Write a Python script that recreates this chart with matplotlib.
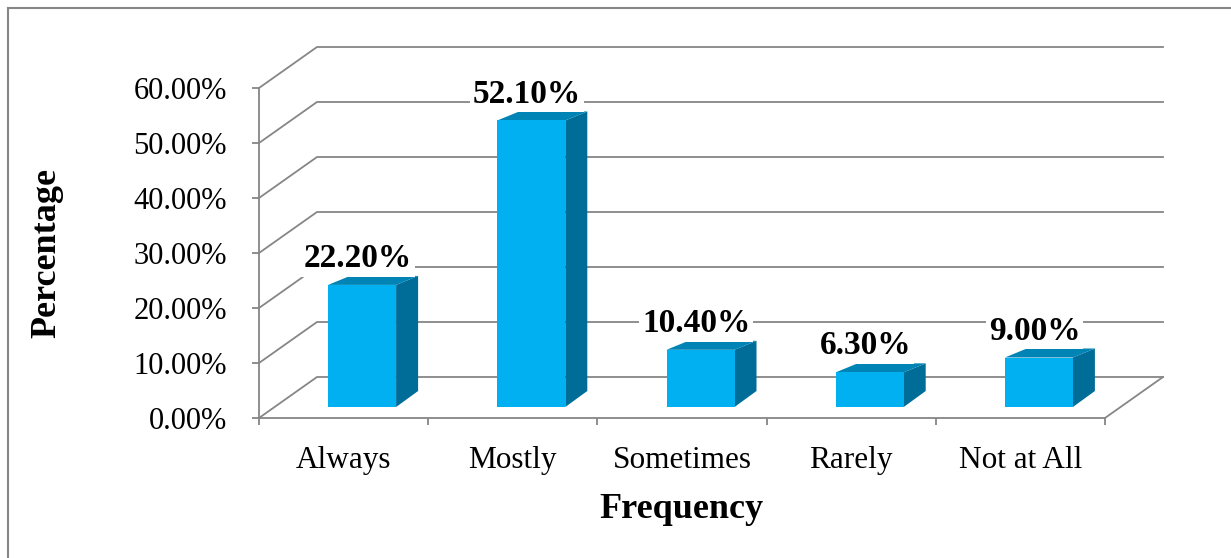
import matplotlib.pyplot as plt
from matplotlib.patches import Polygon
from matplotlib.lines import Line2D

plt.rcParams['font.family'] = ['Liberation Serif', 'DejaVu Serif']

# data
categories = ['Always', 'Mostly', 'Sometimes', 'Rarely', 'Not at All']
values = [22.2, 52.1, 10.4, 6.3, 9.0]
labels = ['22.20%', '52.10%', '10.40%', '6.30%', '9.00%']
yticks = [0, 10, 20, 30, 40, 50, 60]

W, H = 1231, 558
fig = plt.figure(figsize=(W / 100, H / 100), dpi=100)
ax = fig.add_axes([259 / W, 140 / H, 846 / W, 330 / H])
ax.set_xlim(-0.5, 4.5)
ax.set_ylim(0, 60)

# pixels -> data units
sx = 5 / 846
sy = 60 / 330

grid = '#868686'
front = '#00B0F0'
side = '#006D99'
top = '#0083B5'

# 3d wall offset
wdx, wdy = 58 * sx, 41 * sy
for t in yticks:
    ax.plot([-0.5, -0.5 + wdx, 4.5 + wdx], [t, t + wdy, t + wdy],
            color=grid, lw=1.3, clip_on=False, zorder=1)
ax.plot([4.5, 4.5 + wdx], [0, wdy], color=grid, lw=1.3, clip_on=False, zorder=1)

# bars
bw = 68 * sx
ox, oy = 18.5 * sx, 11 * sy  # bar front face offset
ddx, dty, dby = 22 * sx, 9 * sy, 16 * sy
for i, v in enumerate(values):
    x0 = i + ox - bw / 2
    x1 = x0 + bw
    y0 = oy
    y1 = oy + v
    ax.add_patch(Polygon([[x1, y0], [x1, y1], [x1 + ddx, y1 + dty], [x1 + ddx, y0 + dby]],
                         closed=True, fc=side, ec='none', clip_on=False, zorder=3))
    ax.add_patch(Polygon([[x0, y1], [x1, y1], [x1 + ddx, y1 + dty], [x0 + ddx, y1 + dty]],
                         closed=True, fc=top, ec='none', clip_on=False, zorder=3))
    ax.add_patch(Polygon([[x0, y0], [x1, y0], [x1, y1], [x0, y1]],
                         closed=True, fc=front, ec='none', clip_on=False, zorder=4))
    ax.annotate(labels[i], (i + ox, y1), xytext=(-3, 19), textcoords='offset points',
                ha='center', va='center', fontsize=24, fontweight='bold',
                bbox=dict(fc='white', ec='none', pad=2), zorder=6)

# axes
for s in ['top', 'right']:
    ax.spines[s].set_visible(False)
for s in ['left', 'bottom']:
    ax.spines[s].set_color(grid)
    ax.spines[s].set_linewidth(1.3)
ax.set_yticks(yticks)
ax.set_yticklabels([f'{t:.2f}%' for t in yticks], fontsize=22)
ax.tick_params(axis='y', length=5, width=1.3, color=grid, pad=18)
ax.set_xticks(range(len(categories)))
ax.set_xticklabels(categories, fontsize=22.5)
ax.set_xticks([i - 0.5 for i in range(len(categories) + 1)], minor=True)
ax.tick_params(axis='x', which='major', length=0, pad=20)
ax.tick_params(axis='x', which='minor', length=5, width=1.3, color=grid)
ax.patch.set_visible(False)

fig.text(47 / W, 1 - 253 / H, 'Percentage', rotation=90, ha='center', va='center',
         fontsize=26, fontweight='bold')
fig.text(681 / W, 1 - 518 / H, 'Frequency', ha='center', va='baseline',
         fontsize=26, fontweight='bold')

# chart border (left and top only)
fig.add_artist(Line2D([7.5 / W, 7.5 / W], [0, 1 - 8 / H], color=grid, lw=1.5))
fig.add_artist(Line2D([7.5 / W, 1], [1 - 8 / H, 1 - 8 / H], color=grid, lw=1.5))

fig.savefig('out.png', dpi=100)
